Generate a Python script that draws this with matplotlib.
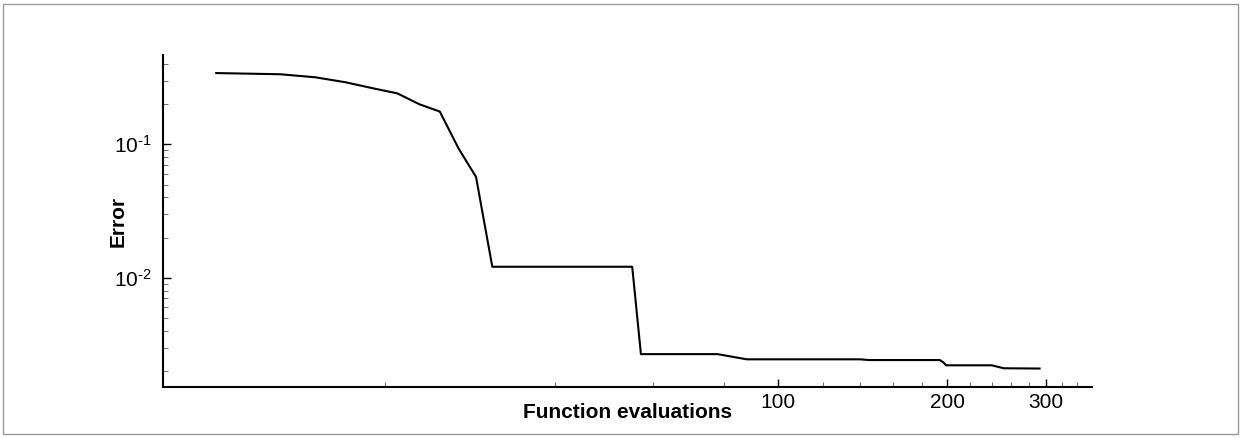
import matplotlib
matplotlib.use("Agg")
from matplotlib import pyplot as plt
from matplotlib import ticker
from matplotlib.patches import Rectangle

plt.rcParams['font.family'] = ['Liberation Sans', 'DejaVu Sans']
plt.rcParams['mathtext.fontset'] = 'custom'
plt.rcParams['mathtext.rm'] = 'Liberation Sans'

# error history vs. number of function evaluations
evals = [10, 13, 15, 17, 19, 21, 23, 25, 27, 29, 31, 55, 57, 78, 88, 140, 145,
         194, 197, 199, 240, 252, 292]
error = [0.342, 0.335, 0.318, 0.2916, 0.263, 0.241, 0.1995, 0.176, 0.093, 0.057,
         0.0121, 0.0121, 0.00268, 0.00268, 0.00245, 0.00245, 0.00242,
         0.00242, 0.00232, 0.00221, 0.00221, 0.0021, 0.00209]

x_major = [100, 200, 300]
x_minor = [20, 40, 60, 80, 120, 140, 160, 180, 220, 240, 260, 280, 320, 340]
y_major = [1e-1, 1e-2]
y_labels = [r'$\mathdefault{10^{\text{-}1}}$', r'$\mathdefault{10^{\text{-}2}}$']

fig = plt.figure(figsize=(12.42, 4.38), dpi=100)
ax = fig.add_axes([163/1242, 1 - 387/438, (1092-163)/1242, (387-55)/438])

ax.plot(evals, error, color='black', lw=1.5)
ax.set_xscale('log')
ax.set_yscale('log')
ax.set_xlim(8.04, 362)
ax.set_ylim(1.52e-3, 0.467)

ax.xaxis.set_major_locator(ticker.FixedLocator(x_major))
ax.xaxis.set_minor_locator(ticker.FixedLocator(x_minor))
ax.xaxis.set_major_formatter(ticker.FixedFormatter([str(v) for v in x_major]))
ax.xaxis.set_minor_formatter(ticker.NullFormatter())
ax.yaxis.set_major_locator(ticker.FixedLocator(y_major))
ax.yaxis.set_major_formatter(ticker.FixedFormatter(y_labels))
ax.yaxis.set_minor_locator(ticker.LogLocator(base=10, subs=range(2, 10)))
ax.yaxis.set_minor_formatter(ticker.NullFormatter())

ax.spines['top'].set_visible(False)
ax.spines['right'].set_visible(False)
ax.spines['left'].set_linewidth(1.5)
ax.spines['bottom'].set_linewidth(1.5)
ax.tick_params(which='major', direction='in', length=6, width=1, labelsize=15, pad=4)
ax.tick_params(which='minor', direction='in', length=3.5, width=0.6, color='#555555')
ax.tick_params(axis='y', which='major', pad=8)

ax.set_xlabel('Function evaluations', fontsize=15, fontweight='bold')
ax.xaxis.set_label_coords(0.5, -0.076)
ax.xaxis.label.set_va('center')
ax.set_ylabel('Error', fontsize=15, fontweight='bold')
ax.yaxis.set_label_coords(-0.0484, 0.5)
ax.yaxis.label.set_va('center')

fig.patches.append(Rectangle((2.5/1242, 1 - 433.5/438), (1238-2.5)/1242, (433.5-3.5)/438,
                             transform=fig.transFigure, fill=False,
                             edgecolor='#999999', lw=1))

fig.savefig('out.png', dpi=100)
